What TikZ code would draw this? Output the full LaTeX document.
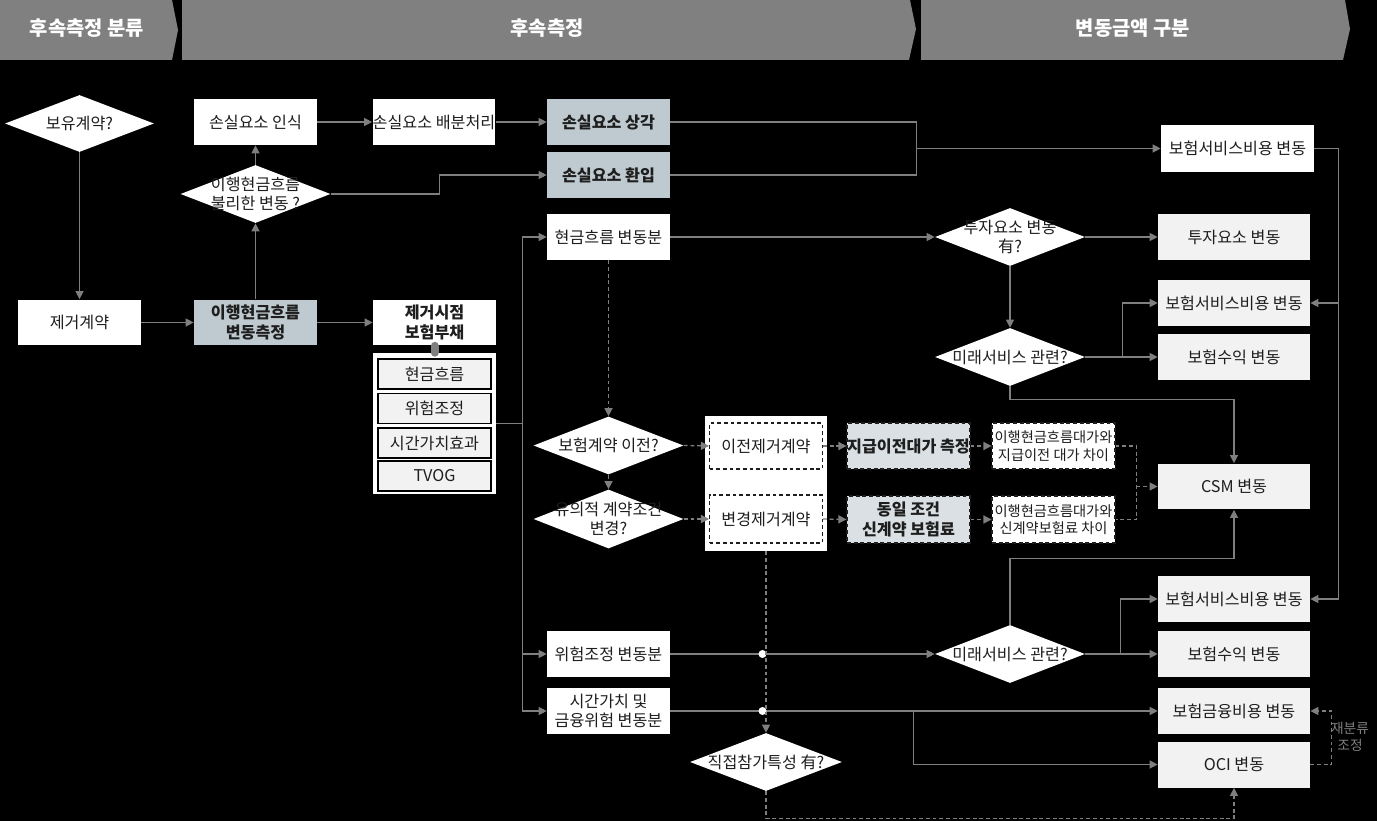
\documentclass[tikz,border=0pt]{standalone}
\usepackage{fontspec}
\setmainfont{Noto Sans CJK KR}
\usetikzlibrary{shapes.geometric,arrows.meta}
\definecolor{lc}{RGB}{127,127,127}
\definecolor{hdr}{RGB}{128,128,128}
\definecolor{bgr}{RGB}{191,202,208}
\definecolor{lgr}{RGB}{242,242,242}
\definecolor{pgr}{RGB}{218,224,228}
\definecolor{tx}{RGB}{30,30,30}
\begin{document}
\begin{tikzpicture}[x=0.02cm,y=-0.02cm,
  ln/.style={draw=lc, line width=0.75pt},
  ar/.style={ln, -{Triangle[length=4.6pt,width=4.6pt]}},
  dsh/.style={dash pattern=on 2.2pt off 1.6pt},
  fnt/.style={font=\fontsize{9.2}{11}\selectfont, text=tx},
  fntb/.style={font=\bfseries\fontsize{9.2}{11}\selectfont, text=tx},
  box/.style={rectangle, minimum width=2.46cm, minimum height=0.92cm, inner sep=0pt, align=center, fnt},
  wbox/.style={box, fill=white},
  bbox/.style={box, fill=bgr, fntb},
  gbox/.style={box, fill=lgr, minimum width=3.04cm},
  sub/.style={box, fill=lgr, draw=black, line width=0.6pt, minimum width=2.26cm, minimum height=0.6cm},
  dbox/.style={box, fill=white, draw=tx, line width=0.6pt, dsh, minimum width=2.26cm},
  pbox/.style={box, fill=pgr, draw=tx, line width=0.6pt, dsh, fntb},
  fbox/.style={box, fill=white, draw=tx, line width=0.6pt, dsh, font=\fontsize{8.1}{10}\selectfont},
  dia/.style={diamond, fill=white, minimum width=3cm, minimum height=1.16cm, inner sep=0pt},
  dlab/.style={fnt, align=center, inner sep=0pt},
  htxt/.style={font=\bfseries\fontsize{11.3}{13}\selectfont, text=white},
  relab/.style={font=\fontsize{7.8}{9.4}\selectfont, text=lc, align=center, inner sep=0pt}
]
\fill[black] (0,0) rectangle (1377,821);
\useasboundingbox (0,0) rectangle (1377,821);

% headers
\fill[hdr] (0,0) -- (172,0) -- (178,30) -- (172,60) -- (0,60) -- cycle;
\node[htxt] (h1) at (87,28) {후속측정 분류};
\fill[hdr] (182,0) -- (910,0) -- (916,29) -- (909,60) -- (182,60) -- cycle;
\node[htxt] (h2) at (547,28) {후속측정};
\fill[hdr] (921,0) -- (1345,0) -- (1350,29) -- (1343,60) -- (921,60) -- cycle;
\node[htxt] (h3) at (1133,28) {변동금액 구분};

% left part
\node[dia, minimum width=2.98cm, minimum height=1.14cm, label={[dlab]center:{보유계약?}}] (dHold) at (79.5,123.5) {};
\node[wbox] (rDerec) at (79.5,322.5) {제거계약};
\node[bbox] (rFCF) at (255.5,322.5) {이행현금흐름\\변동측정};
\node[dia, label={[dlab]center:{이행현금흐름\\불리한 변동 ?}}] (dUnfav) at (255.5,194) {};
\node[wbox] (rLossRec) at (255.5,122) {손실요소 인식};
\node[wbox] (rLossAlloc) at (434,122) {\makebox[0pt]{손실요소 배분처리}};
\node[bbox] (rLossAmort) at (608.5,122) {손실요소 상각};
\node[bbox] (rLossRev) at (608.5,175) {손실요소 환입};
\node[wbox, fntb] (rLiab) at (434.5,322.5) {제거시점\\보험부채};
\node[box, fill=white, minimum height=2.82cm] (cont1) at (434.5,423.5) {};
\node[sub] (sCF) at (434.5,374) {현금흐름};
\node[sub] (sRA) at (434.5,408.5) {위험조정};
\node[sub] (sTV) at (434.5,443) {시간가치효과};
\node[sub] (sTVOG) at (434.5,476) {TVOG};

% middle
\node[wbox] (rCF) at (608.5,237) {현금흐름 변동분};
\node[wbox] (rRA) at (608.5,654) {위험조정 변동분};
\node[wbox] (rTV) at (608.5,711) {시간가치 및\\금융위험 변동분};
\node[dia, label={[dlab]center:{보험계약 이전?}}] (dXfer) at (608.5,445.5) {};
\node[dia, minimum height=1.18cm, label={[dlab]center:{유의적 계약조건\\변경?}}] (dMod) at (608.5,519) {};
\node[box, fill=white, minimum width=2.44cm, minimum height=2.7cm] (cont2) at (766,483.5) {};
\node[dbox] (rXferDer) at (766,446) {이전제거계약};
\node[dbox, minimum height=0.96cm] (rModDer) at (766,519) {변경제거계약};
\node[pbox] (rPay) at (908.5,446) {\makebox[0pt]{지급이전대가 측정}};
\node[pbox, minimum height=0.94cm] (rNewPrem) at (908.5,519.5) {동일 조건\\신계약 보험료};
\node[fbox] (rDiff1) at (1053.5,446) {이행현금흐름대가와\\지급이전 대가 차이};
\node[fbox, minimum height=0.94cm] (rDiff2) at (1053.5,519.5) {이행현금흐름대가와\\신계약보험료 차이};
\node[dia, minimum width=3.04cm, label={[dlab]center:{직접참가특성 有?}}] (dDP) at (766,762) {};

% right
\node[dia, label={[dlab]center:{투자요소 변동\\有?}}] (dInv) at (1010,237) {};
\node[dia, label={[dlab]center:{미래서비스 관련?}}] (dFut1) at (1010,357) {};
\node[dia, label={[dlab]center:{미래서비스 관련?}}] (dFut2) at (1010,654) {};
\node[wbox, minimum width=3.06cm, minimum height=0.94cm] (rISE0) at (1237.5,148.5) {보험서비스비용 변동};
\node[gbox] (rInv) at (1234,237) {투자요소 변동};
\node[gbox] (rISE1) at (1234,303) {보험서비스비용 변동};
\node[gbox] (rIR1) at (1234,357) {보험수익 변동};
\node[gbox] (rCSM) at (1234,486.5) {CSM 변동};
\node[gbox] (rISE2) at (1234,599) {보험서비스비용 변동};
\node[gbox] (rIR2) at (1234,654) {보험수익 변동};
\node[gbox] (rIFE) at (1234,711) {보험금융비용 변동};
\node[gbox] (rOCI) at (1234,764.5) {OCI 변동};

% connectors - top left
\draw[ar] (dHold.south) -- (rDerec.north);
\draw[ar] (rDerec.east) -- (rFCF.west);
\draw[ar] (rFCF.north) -- (dUnfav.south);
\draw[ar] (dUnfav.north) -- (rLossRec.south);
\draw[ar] (rLossRec.east) -- (rLossAlloc.west);
\draw[ar] (rLossAlloc.east) -- (rLossAmort.west);
\draw[ar] (dUnfav.east) -- ++(109,0) |- (rLossRev.west);
\draw[ar] (rFCF.east) -- (rLiab.west);
\draw[lc, line width=0.16cm, line cap=round] (rLiab.south) -- (cont1.north);

\draw[ln] (rLossAmort.east) -- ++(246,0) coordinate (j1) |- (rLossRev.east);
\draw[ar] (j1 |- rISE0.west) -- (rISE0.west);
\draw[ln] (rISE0.east) -- ++(24,0) coordinate (j2);
\draw[ar] (j2) |- (rISE1.east);
\draw[ar] (j2) |- (rISE2.east);

% bus
\draw[ln] (cont1.east) -- ++(26,0) coordinate (bus);
\draw[ar] (bus) |- (rCF.west);
\draw[ar] (bus) |- (rRA.west);
\draw[ar] (bus) |- (rTV.west);

% upper right
\draw[ar] (rCF.east) -- (dInv.west);
\draw[ar] (dInv.east) -- (rInv.west);
\draw[ar] (dInv.south) -- (dFut1.north);
\draw[ar] (dFut1.east) -- (rIR1.west);
\draw[ar] (dFut1.east) -- ++(37,0) |- (rISE1.west);
\draw[ar] (dFut1.south) -- ++(0,13) -| (rCSM.north);

% dashed middle
\draw[ar,dsh] (rCF.south) -- (dXfer.north);
\draw[ar,dsh] (dXfer.south) -- (dMod.north);
\draw[ar,dsh] (dXfer.east) -- (rXferDer.west);
\draw[ar,dsh] (dMod.east) -- (rModDer.west);
\draw[ar,dsh] (rXferDer.east) -- (rPay.west);
\draw[ar,dsh] (rModDer.east) -- (rNewPrem.west);
\draw[ar,dsh] (rPay.east) -- (rDiff1.west);
\draw[ar,dsh] (rNewPrem.east) -- (rDiff2.west);
\draw[ln,dsh] (rDiff1.east) -- ++(21,0) coordinate (j3) |- (rDiff2.east);
\draw[ar,dsh] (j3 |- rCSM.west) -- (rCSM.west);

% lower
\draw[ar] (rRA.east) -- (dFut2.west);
\draw[ln] (rTV.east) -- ++(243,0) coordinate (j4);
\draw[ar] (j4) -- (rIFE.west);
\draw[ar] (j4) |- (rOCI.west);
\fill[white] (762.5,654) circle (0.08cm);
\fill[white] (762.5,711) circle (0.08cm);
\draw[ar,dsh] (cont2.south) -- (dDP.north);
\draw[ar] (dFut2.east) -- (rIR2.west);
\draw[ar] (dFut2.east) -- ++(35,0) |- (rISE2.west);
\draw[ar] (dFut2.north) -- ++(0,-66) -| (rCSM.south);
\draw[ar,dsh] (dDP.south) -- ++(0,27) -| (rOCI.south);
\draw[ar,dsh] (rOCI.east) -- ++(21,0) |- (rIFE.east);
\node[relab] (reclass) at (1350,737) {재분류\\조정};
\end{tikzpicture}
\end{document}
